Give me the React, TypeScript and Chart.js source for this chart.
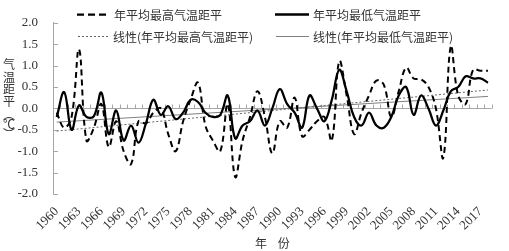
import React, { useEffect, useRef } from "react";
import { Chart, registerables } from "chart.js";

Chart.register(...registerables);

const years = [
  "1960","1961","1962","1963","1964","1965","1966","1967","1968","1969",
  "1970","1971","1972","1973","1974","1975","1976","1977","1978","1979",
  "1980","1981","1982","1983","1984","1985","1986","1987","1988","1989",
  "1990","1991","1992","1993","1994","1995","1996","1997","1998","1999",
  "2000","2001","2002","2003","2004","2005","2006","2007","2008","2009",
  "2010","2011","2012","2013","2014","2015","2016","2017","2018",
];

const maxAnom = [
  -0.1, -0.45, -0.2, 1.38, -0.75, -0.45, 0.1, -0.9, -0.3, -1.0,
  -1.3, -0.3, -0.35, -0.1, 0.0, -0.6, -1.0, -0.3, 0.2, 0.6,
  -0.4, -0.75, -1.0, 0.1, -1.6, -0.75, -0.2, 0.4, -0.2, -1.05,
  -0.3, -0.45, 0.25, -0.65, -0.5, -0.3, -0.2, -0.75, 1.1, 0.3,
  -0.6, -0.1, 0.3, 0.65, 0.55, -0.2, 0.4, 0.95, 0.7, 0.68,
  0.5, 0.0, -1.15, 1.45, 0.3, 0.1, 0.9, 0.88, 0.88,
];

const minAnom = [
  -0.2, 0.38, -0.5, 0.07, -0.2, -0.18, 0.37, -0.6, -0.05, -0.75,
  -0.4, -0.8, -0.35, 0.2, -0.15, 0.05, -0.25, -0.1, 0.2, 0.15,
  -0.1, -0.2, -0.15, 0.3, -0.7, -0.4, -0.3, -0.05, -0.4, 0.0,
  0.45, 0.1, -0.1, -0.45, 0.3, 0.0, -0.3, 0.2, 0.9, 0.4,
  -0.2, -0.4, -0.1, -0.4, -0.45, -0.2, 0.3, 0.5, -0.15, 0.3,
  0.0, -0.4, -0.05, 0.4, 0.5, 0.75, 0.7, 0.7, 0.6,
];

// linear trend end values (first year, last year)
const trendMaxEnds = [-0.53, 0.43];
const trendMinEnds = [-0.32, 0.28];

const labelMax = "年平均最高气温距平";
const labelMin = "年平均最低气温距平";
const labelTrendMax = "线性(年平均最高气温距平)";
const labelTrendMin = "线性(年平均最低气温距平)";
const yTitleChars = ["气", "温", "距", "平", "︵", "℃", "︶"];
const xTitle = "年    份";

const tickEvery = 3;

const endsToSeries = (ends: number[]) =>
  years.map((_, i) => (i === 0 ? ends[0] : i === years.length - 1 ? ends[1] : null));

const CJK = '"Noto Sans CJK SC", sans-serif';
const SERIF = '"Liberation Serif", "Times New Roman", serif';
const TEXT = "#333333";

const decor = {
  id: "decor",
  beforeDatasetsDraw(chart: any) {
    const { ctx, chartArea, scales } = chart;
    const xs = scales.x;
    const ys = scales.y;
    const y0 = Math.round(ys.getPixelForValue(0)) + 0.5;
    ctx.save();
    ctx.strokeStyle = "#a6a6a6";
    ctx.lineWidth = 1;
    ctx.beginPath();
    ctx.moveTo(chartArea.left, y0);
    ctx.lineTo(chartArea.right, y0);
    const n = years.length;
    const half = (xs.getPixelForValue(1) - xs.getPixelForValue(0)) / 2;
    for (let i = 0; i <= n; i++) {
      const px =
        i < n ? xs.getPixelForValue(i) - half : xs.getPixelForValue(n - 1) + half;
      const xx = Math.round(px) + 0.5;
      ctx.moveTo(xx, y0);
      ctx.lineTo(xx, y0 - 4);
    }
    ys.ticks.forEach((t: any) => {
      const yy = Math.round(ys.getPixelForValue(t.value)) + 0.5;
      ctx.moveTo(chartArea.left, yy);
      ctx.lineTo(chartArea.left + 5, yy);
    });
    ctx.stroke();
    ctx.restore();
  },
  afterDatasetsDraw(chart: any) {
    const { ctx } = chart;
    const entries = [
      { text: labelMax, x: 77, y: 14, len: 33, dash: [7, 4], w: 2.25, c: "#000", tx: 114 },
      { text: labelMin, x: 275, y: 14, len: 34, dash: [], w: 2.5, c: "#000", tx: 313 },
      { text: labelTrendMax, x: 78, y: 36, len: 32, dash: [2, 2], w: 1, c: "#666", tx: 113 },
      { text: labelTrendMin, x: 276, y: 36, len: 33, dash: [], w: 1, c: "#808080", tx: 313 },
    ];
    ctx.save();
    entries.forEach((e) => {
      ctx.beginPath();
      ctx.setLineDash(e.dash);
      ctx.strokeStyle = e.c;
      ctx.lineWidth = e.w;
      ctx.moveTo(e.x, e.y + 0.5);
      ctx.lineTo(e.x + e.len, e.y + 0.5);
      ctx.stroke();
      ctx.setLineDash([]);
      ctx.fillStyle = TEXT;
      ctx.font = `12px ${CJK}`;
      ctx.textBaseline = "middle";
      ctx.textAlign = "left";
      ctx.fillText(e.text, e.tx, e.y + 1);
    });
    ctx.restore();
  },
  afterDraw(chart: any) {
    const { ctx } = chart;
    ctx.save();
    ctx.fillStyle = TEXT;
    ctx.font = `12px ${CJK}`;
    ctx.textAlign = "center";
    ctx.textBaseline = "middle";
    const ys = [64, 77, 89, 101, 114, 124, 134];
    yTitleChars.forEach((ch, i) => ctx.fillText(ch, 9, ys[i]));
    ctx.restore();
  },
};

export default function App() {
  const ref = useRef<HTMLCanvasElement | null>(null);
  useEffect(() => {
    document.body.style.margin = "0";
    document.body.style.overflow = "hidden";
    const canvas = ref.current;
    if (!canvas) return;
    const chart = new Chart(canvas, {
      type: "line",
      data: {
        labels: years,
        datasets: [
          {
            label: labelMax,
            data: maxAnom,
            borderColor: "#000",
            borderWidth: 2,
            borderDash: [6, 4],
            pointRadius: 0,
            tension: 0.4,
            fill: false,
          },
          {
            label: labelMin,
            data: minAnom,
            borderColor: "#000",
            borderWidth: 2.25,
            pointRadius: 0,
            tension: 0.4,
            fill: false,
          },
          {
            label: labelTrendMax,
            data: endsToSeries(trendMaxEnds),
            borderColor: "#666",
            borderWidth: 1,
            borderDash: [2, 2],
            pointRadius: 0,
            spanGaps: true,
            fill: false,
          },
          {
            label: labelTrendMin,
            data: endsToSeries(trendMinEnds),
            borderColor: "#808080",
            borderWidth: 1,
            pointRadius: 0,
            spanGaps: true,
            fill: false,
          },
        ],
      },
      options: {
        animation: false,
        responsive: false,
        devicePixelRatio: 1,
        layout: { padding: { top: 7.5, right: 3.5, left: 0, bottom: 0 } },
        plugins: { legend: { display: false }, tooltip: { enabled: false } },
        scales: {
          x: {
            type: "category",
            offset: true,
            grid: { display: false, drawTicks: false },
            border: { display: false },
            ticks: {
              autoSkip: false,
              maxRotation: 45,
              minRotation: 45,
              padding: 10,
              color: TEXT,
              font: { family: SERIF, size: 13 },
              callback: (_v: any, i: number) => (i % tickEvery === 0 ? years[i] : ""),
            },
            title: {
              display: true,
              text: xTitle,
              color: TEXT,
              font: { family: CJK, size: 12 },
              padding: { top: 0, bottom: 0 },
            },
            afterFit: (s: any) => {
              s.height = 57;
            },
          },
          y: {
            min: -2,
            max: 2,
            grid: { display: true, drawOnChartArea: false, drawTicks: false },
            border: { display: true, color: "#a6a6a6", width: 1 },
            ticks: {
              stepSize: 0.5,
              padding: 15,
              color: TEXT,
              font: { family: SERIF, size: 13 },
              callback: (v: any) => Number(v).toFixed(1),
            },
            afterFit: (s: any) => {
              s.width = 53;
            },
          },
        },
      },
      plugins: [decor],
    });
    return () => chart.destroy();
  }, []);
  return <canvas ref={ref} width={509} height={251} style={{ display: "block" }} />;
}
